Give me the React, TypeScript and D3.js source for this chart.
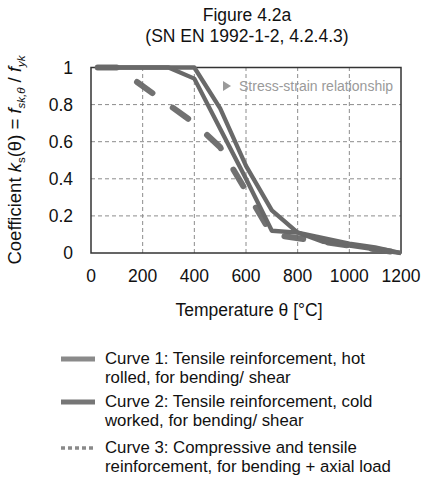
import React from "react";
import * as d3 from "d3";

const temps = [20, 100, 200, 300, 400, 500, 600, 700, 800, 900, 1000, 1100, 1200];
const curve1 = [1, 1, 1, 1, 1, 0.78, 0.47, 0.23, 0.11, 0.06, 0.04, 0.02, 0];
const curve2 = [1, 1, 1, 1, 0.94, 0.67, 0.4, 0.12, 0.11, 0.08, 0.05, 0.03, 0];
const temps3 = [20, 100, 400, 500, 700, 1200];
const curve3 = [1, 1, 0.7, 0.57, 0.1, 0];
const xTicks = [0, 200, 400, 600, 800, 1000, 1200];
const yTicks = [0, 0.2, 0.4, 0.6, 0.8, 1];
const legendLabels = [
  ["Curve 1: Tensile reinforcement, hot", "rolled, for bending/ shear"],
  ["Curve 2: Tensile reinforcement, cold", "worked, for bending/ shear"],
  ["Curve 3: Compressive and tensile", "reinforcement, for bending + axial load"],
];

const FONT = "Liberation Sans, Arial, sans-serif";

export default function App() {
  const W = 422, H = 486;
  const x = d3.scaleLinear().domain([0, 1200]).range([91, 401]);
  const y = d3.scaleLinear().domain([0, 1]).range([253, 67.5]);
  const line = d3.line<[number, number]>().x((d) => x(d[0])).y((d) => y(d[1]));
  const p1 = line(temps.map((t, i) => [t, curve1[i]]))!;
  const p2 = line(temps.map((t, i) => [t, curve2[i]]))!;
  const p3 = line(temps3.map((t, i) => [t, curve3[i]]))!;
  const lineColor = "#696969";
  const legendY = [359, 402, 448];
  const legendStyles = [
    { stroke: "#8a8a8a", w: 5, dash: undefined as string | undefined },
    { stroke: "#767676", w: 5, dash: undefined },
    { stroke: "#8a8a8a", w: 3.5, dash: "4 3" },
  ];
  return (
    <svg width={W} height={H} style={{ position: "absolute", left: 0, top: 0, background: "#fff" }} fontFamily={FONT}>
      {/* title */}
      <text x={247} y={21} textAnchor="middle" fontSize={17.5} fill="#111">Figure 4.2a</text>
      <text x={247} y={42} textAnchor="middle" fontSize={17.5} fill="#111">(SN EN 1992-1-2, 4.2.4.3)</text>

      {/* gridlines */}
      {xTicks.filter((t) => t > 0 && t < 1200).map((t) => (
        <line key={"gx" + t} x1={x(t)} x2={x(t)} y1={y(0)} y2={y(1)} stroke="#8c8c8c" strokeWidth={1} strokeDasharray="4 3" />
      ))}
      {yTicks.filter((t) => t > 0 && t < 1).map((t) => (
        <line key={"gy" + t} x1={x(0)} x2={x(1200)} y1={y(t)} y2={y(t)} stroke="#8c8c8c" strokeWidth={1} strokeDasharray="4 3" />
      ))}
      <rect x={x(0)} y={y(1)} width={x(1200) - x(0)} height={y(0) - y(1)} fill="none" stroke="#333" strokeWidth={1.5} />

      {/* annotation */}
      <path d={`M${223},${81} L${231},${86} L${223},${91} Z`} fill="#9a9a9a" />
      <text x={239} y={91} fontSize={14} fill="#9a9a9a">Stress-strain relationship</text>

      {/* curves */}
      <path d={p3} fill="none" stroke={lineColor} strokeWidth={6} strokeLinecap="round" strokeDasharray="19 25" strokeDashoffset={-1.5} strokeOpacity={0.95} />
      <path d={p1} fill="none" stroke={lineColor} strokeWidth={4.3} strokeLinejoin="round" />
      <path d={p2} fill="none" stroke={lineColor} strokeWidth={4.3} strokeLinejoin="round" />

      {/* tick labels */}
      {xTicks.map((t) => (
        <text key={"tx" + t} x={x(t)} y={282} textAnchor="middle" fontSize={17.5} fill="#111">{t}</text>
      ))}
      {yTicks.map((t) => (
        <text key={"ty" + t} x={73} y={y(t) + 6} textAnchor="end" fontSize={17.5} fill="#111">{t}</text>
      ))}

      {/* axis titles */}
      <text x={249} y={316} textAnchor="middle" fontSize={17.5} fill="#111">Temperature θ [°C]</text>
      <text transform={`translate(21,160) rotate(-90)`} textAnchor="middle" fontSize={18.5} fill="#111">
        <tspan>Coefficient </tspan>
        <tspan fontStyle="italic">k</tspan>
        <tspan fontSize={11.5} dy={4}>s</tspan>
        <tspan dy={-4}>(θ) = </tspan>
        <tspan fontStyle="italic">f</tspan>
        <tspan fontSize={11.5} fontStyle="italic" dy={4}>sk,θ</tspan>
        <tspan dy={-4}> / </tspan>
        <tspan fontStyle="italic">f</tspan>
        <tspan fontSize={11.5} fontStyle="italic" dy={4}>yk</tspan>
      </text>

      {/* legend */}
      {legendLabels.map((lab, i) => (
        <g key={"lg" + i}>
          <line x1={61} x2={95} y1={legendY[i]} y2={legendY[i]} stroke={legendStyles[i].stroke} strokeWidth={legendStyles[i].w} strokeDasharray={legendStyles[i].dash} />
          <text x={105} y={legendY[i] + 5} fontSize={16.8} fill="#111">{lab[0]}</text>
          <text x={105} y={legendY[i] + 24} fontSize={16.8} fill="#111">{lab[1]}</text>
        </g>
      ))}
    </svg>
  );
}
